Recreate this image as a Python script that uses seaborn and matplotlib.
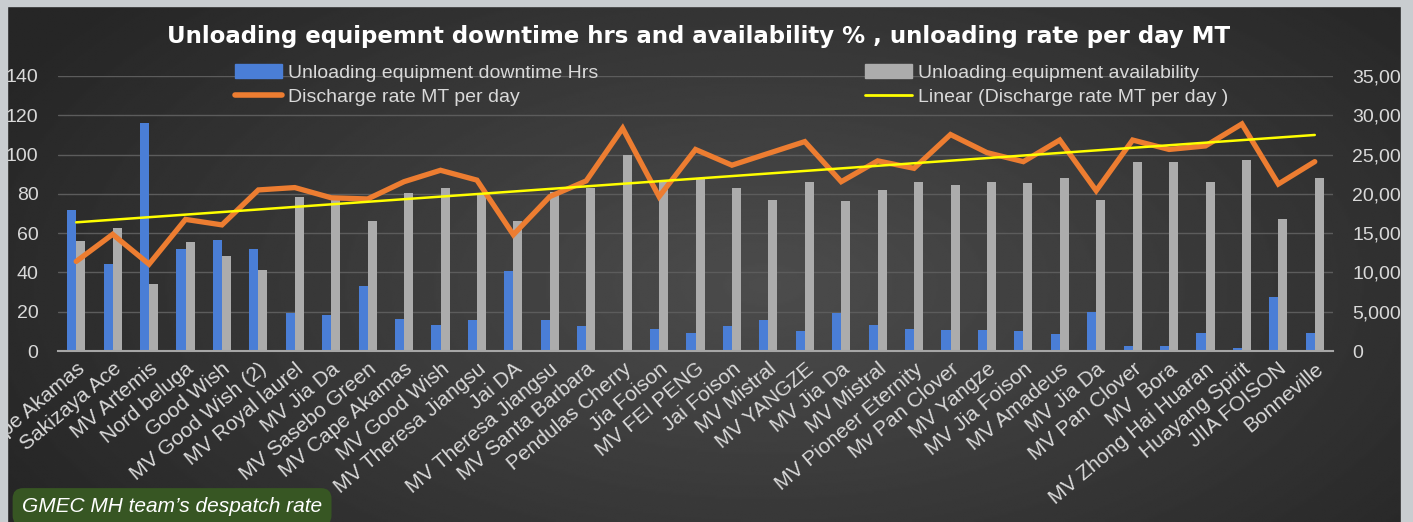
import numpy as np
import pandas as pd
import matplotlib
matplotlib.use("Agg")
import matplotlib.pyplot as plt
from matplotlib.patches import Patch, Rectangle
from matplotlib.lines import Line2D
from matplotlib.ticker import FuncFormatter
import seaborn as sns

# ---- data ----
vessels = [
    "Cape Akamas", "Sakizaya Ace", "MV Artemis", "Nord beluga", "Good Wish",
    "MV Good Wish (2)", "MV Royal laurel", "MV Jia Da", "MV Sasebo Green",
    "MV Cape Akamas", "MV Good Wish", "MV Theresa Jiangsu", "Jai DA",
    "MV Theresa Jiangsu", "MV Santa Barbara", "Pendulas Cherry", "Jia Foison",
    "MV FEI PENG", "Jai Foison", "MV Mistral", "MV YANGZE", "MV Jia Da",
    "MV Mistral", "MV Pioneer Eternity", "Mv Pan Clover", "MV Yangze",
    "MV Jia Foison", "MV Amadeus", "MV Jia Da", "MV Pan Clover", "MV  Bora",
    "MV Zhong Hai Huaran", "Huayang Spirit", "JIIA FOISON", "Bonneville",
]
downtime_hrs = [72, 44.5, 116, 52, 56.5, 52, 19.5, 18.5, 33, 16.5, 13, 16, 40.5,
                16, 12.5, 0, 11, 9, 12.5, 16, 10, 19.5, 13, 11, 10.5, 10.5, 10,
                8.5, 20, 2.5, 2.5, 9, 1.5, 27.5, 9]
availability = [56, 62.5, 34, 55.5, 48.5, 41, 78.5, 77, 66, 80.5, 83, 80, 66,
                81, 83, 100, 87, 87.5, 83, 77, 86, 76.5, 82, 86, 84.5, 86, 85.5,
                88, 77, 96, 96, 86, 97, 67, 88]
discharge_rate = [11400, 14850, 11050, 16750, 16050, 20500, 20800, 19500, 19350,
                  21550, 23000, 21750, 14800, 19650, 21650, 28350, 19650, 25650,
                  23650, 25150, 26650, 21550, 24200, 23250, 27550, 25250, 24100,
                  26850, 20400, 26850, 25650, 26100, 28900, 21250, 24100]

title = "Unloading equipemnt downtime hrs and availability % , unloading rate per day MT"
lbl_down = "Unloading equipment downtime Hrs"
lbl_avail = "Unloading equipment availability"
lbl_rate = "Discharge rate MT per day"
lbl_trend = "Linear (Discharge rate MT per day )"

BLUE = "#4a7ed6"
GRAY = "#acacac"
ORANGE = "#ed7d31"
YELLOW = "#ffff00"
TXT = "#d9d9d9"

idx = np.arange(len(vessels))
bars = pd.DataFrame({
    "idx": np.concatenate([idx, idx]),
    "value": downtime_hrs + availability,
    "series": [lbl_down] * len(idx) + [lbl_avail] * len(idx),
})
rate = pd.DataFrame({"idx": idx, "rate": discharge_rate})
coef = np.polyfit(idx, discharge_rate, 1)
rate["trend"] = np.polyval(coef, idx)

sns.set_theme(style="dark")
plt.rcParams["font.family"] = ["Liberation Sans", "DejaVu Sans"]

W, H = 1413, 522
fig = plt.figure(figsize=(W / 100, H / 100), dpi=100)
fig.patch.set_facecolor("#c9cdd0")

# dark gradient panel behind the chart
bg = fig.add_axes([7 / W, 0, (1401 - 7) / W, (H - 6) / H])
yy, xx = np.mgrid[0:260, 0:700]
r = np.sqrt(((xx - 380) / 430) ** 2 + ((yy - 140) / 220) ** 2)
shade = 0.30 - 0.15 * np.clip(r, 0, 1)
bg.imshow(shade, cmap="gray", vmin=0, vmax=1, aspect="auto", interpolation="bilinear")
bg.set_axis_off()

ax = fig.add_axes([58 / W, (H - 351) / H, (1333 - 58) / W, (351 - 76) / H])
ax.set_facecolor("none")
sns.barplot(data=bars, x="idx", y="value", hue="series", palette=[BLUE, GRAY],
            width=0.5, saturation=1, legend=False, ax=ax, zorder=2,
            linewidth=0, edgecolor="none")
ax.set_ylim(0, 140)
ax.set_xlim(-0.5, len(idx) - 0.5)
ax.set_yticks(range(0, 141, 20))
ax.yaxis.grid(True, color="#5c5c5c", linewidth=1)
ax.xaxis.grid(False)
ax.set_axisbelow(True)
for s in ["top", "left", "right"]:
    ax.spines[s].set_visible(False)
ax.spines["bottom"].set_color("#a6a6a6")
ax.spines["bottom"].set_linewidth(1.5)
ax.set_xlabel("")
ax.set_ylabel("")
ax.set_xticks(idx)
ax.set_xticklabels(vessels, rotation=40, ha="right", rotation_mode="anchor")
ax.tick_params(axis="x", length=0, pad=6, labelsize=15, colors=TXT)
ax.tick_params(axis="y", length=0, pad=14, labelsize=14, colors=TXT)

ax2 = ax.twinx()
sns.lineplot(data=rate, x="idx", y="rate", color=ORANGE, linewidth=3.8, ax=ax2,
             solid_joinstyle="miter")
sns.lineplot(data=rate, x="idx", y="trend", color=YELLOW, linewidth=1.8, ax=ax2)
ax2.set_ylim(0, 35000)
ax2.set_yticks(range(0, 35001, 5000))
ax2.yaxis.set_major_formatter(FuncFormatter(lambda v, p: f"{int(v):,}"))
ax2.grid(False)
for s in ax2.spines.values():
    s.set_visible(False)
ax2.set_xlabel("")
ax2.set_ylabel("")
ax2.tick_params(axis="y", length=0, pad=14, labelsize=14, colors=TXT)

fig.text(0.4947, 1 - 37 / H, title, ha="center", va="center", color="white",
         fontsize=16.5, fontweight="bold", family="DejaVu Sans")

handles = [Patch(color=BLUE), Line2D([], [], color=ORANGE, linewidth=4),
           Patch(color=GRAY), Line2D([], [], color=YELLOW, linewidth=2)]
labels = [lbl_down, lbl_rate, lbl_avail, lbl_trend]
fig.legend(handles, labels, loc="upper left", bbox_to_anchor=(235 / W, 1 - 64 / H),
           ncol=2, frameon=False, fontsize=14, labelcolor=TXT, handlelength=2.4,
           handletextpad=0.3, columnspacing=13.75, labelspacing=0.35,
           borderpad=0, borderaxespad=0)

fig.text(22 / W, 1 - 507 / H, "GMEC MH team\u2019s despatch rate", ha="left",
         va="center", color="white", fontsize=15, style="italic",
         bbox=dict(boxstyle="round,pad=0.45,rounding_size=0.5", fc="#375623", ec="none"))

# light strips cropping the edges
fig.add_artist(Rectangle((0, 0), 7 / W, 1, transform=fig.transFigure,
                         color="#c9cdd0", zorder=10))
fig.add_artist(Rectangle((1401 / W, 0), 1 - 1401 / W, 1, transform=fig.transFigure,
                         color="#c9cdd0", zorder=10))
fig.add_artist(Rectangle((0, 1 - 6 / H), 1, 6 / H, transform=fig.transFigure,
                         color="#c9cdd0", zorder=10))

fig.savefig("out.png", dpi=100, facecolor=fig.get_facecolor())
